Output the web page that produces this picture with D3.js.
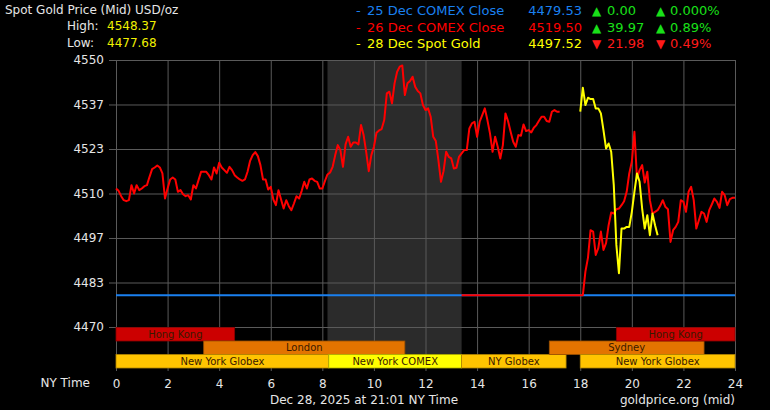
<!DOCTYPE html>
<html><head><meta charset="utf-8">
<script src="https://cdn.jsdelivr.net/npm/d3@7"></script>
<style>html,body{margin:0;padding:0;background:#000;overflow:hidden}svg{display:block}</style>
</head><body>
<script>
// ---------------- DATA ----------------
const xTickHours = [0, 2, 4, 6, 8, 10, 12, 14, 16, 18, 20, 22, 24];
const yTickValues = [4550, 4536.67, 4523.33, 4510, 4496.67, 4483.33, 4470];
const yTickLabels = ["4550", "4537", "4523", "4510", "4497", "4483", "4470"];

const stepHours = 0.1;
// 26 Dec COMEX session, from 0:00 to 17:20 NY time, every 6 minutes
const redDayValues = [
  4511.5, 4510.8, 4509.2, 4508.0, 4507.7, 4508.0, 4512.5, 4510.0, 4512.5, 4511.0,
  4511.5, 4512.2, 4512.5, 4515.0, 4517.3, 4517.8, 4518.4, 4517.8, 4516.0, 4508.5,
  4511.5, 4514.2, 4514.8, 4514.2, 4510.5, 4511.0, 4509.8, 4509.2, 4509.5, 4508.2,
  4512.5, 4511.5, 4514.0, 4516.5, 4516.5, 4516.5, 4515.5, 4514.2, 4517.8, 4516.0,
  4519.2, 4517.8, 4517.0, 4516.2, 4518.0, 4517.0, 4515.5, 4514.8, 4514.2, 4513.8,
  4514.2, 4516.5, 4519.8, 4521.5, 4522.4, 4521.2, 4518.5, 4514.2, 4514.2, 4511.2,
  4512.0, 4508.2, 4506.5, 4511.0, 4508.2, 4505.5, 4508.0, 4506.2, 4505.0, 4507.0,
  4509.2, 4508.5, 4510.8, 4513.5, 4511.5, 4514.2, 4514.5, 4513.8, 4513.5,
  4511.5, 4511.5, 4513.7, 4515.7, 4516.3, 4518.0, 4521.5, 4524.5, 4523.0, 4518.0, 4524.7,
  4527.0, 4524.0, 4525.3, 4525.3, 4524.7, 4530.5, 4527.5, 4522.5, 4516.7, 4521.5,
  4524.0, 4528.2, 4528.9, 4529.3, 4532.0, 4540.0, 4540.5, 4537.0, 4543.0, 4546.5,
  4548.0, 4548.37, 4539.5, 4543.0, 4543.7, 4545.0, 4542.0, 4540.7, 4540.0, 4536.5,
  4535.0, 4535.5, 4533.0, 4527.0, 4525.7, 4520.0, 4513.5, 4516.7, 4522.5, 4521.0,
  4520.5, 4517.5, 4517.7, 4521.0, 4522.0, 4523.0, 4523.0, 4529.5, 4531.0, 4531.5,
  4527.0, 4531.5, 4533.5, 4535.5, 4532.0, 4528.0, 4522.5, 4527.0, 4524.0, 4520.5,
  4524.5, 4534.0, 4531.7, 4528.5,
  4525.5, 4524.0, 4527.5, 4527.3, 4530.7, 4528.7, 4529.0, 4528.3, 4529.7, 4530.5,
  4531.8, 4533.0, 4533.0, 4531.7, 4531.5, 4534.5, 4535.0, 4534.5, 4534.5
];
const redDayStart = 0;

// evening session (18:00 - 24:00)
const redEveningStart = 18.0;
const redEveningValues = [
  4479.53, 4479.53, 4486.6, 4490.8, 4499.0, 4498.6, 4491.6, 4493.6, 4498.6, 4493.1,
  4495.1, 4500.5, 4504.3, 4504.0, 4505.3, 4505.5, 4506.5, 4507.7, 4510.5, 4516.0,
  4519.5, 4528.5, 4514.5, 4517.0, 4518.5, 4513.3, 4516.5, 4508.0, 4504.0, 4504.5,
  4505.0, 4506.3, 4508.0, 4506.0, 4505.3, 4495.5, 4499.0, 4500.0, 4501.5, 4508.0,
  4507.5, 4504.5, 4510.5, 4512.0, 4508.0, 4499.5, 4502.0, 4504.5, 4504.0, 4501.5,
  4505.0, 4506.7, 4508.5, 4507.5, 4505.7, 4510.5, 4509.5, 4506.5, 4508.3, 4508.7, 4508.7
];
const redFlatStart = 13.4;

// 28 Dec spot gold (18:00 - 21:00)
const yellowStart = 18.0;
const yellowValues = [
  4534.5, 4541.7, 4536.5, 4538.7, 4538.3, 4538.3, 4535.5, 4535.5, 4534.0, 4529.0,
  4523.5, 4525.0, 4522.5, 4512.5, 4494.6, 4486.1, 4499.5, 4499.5, 4500.0, 4500.0,
  4504.5, 4510.5, 4516.0, 4513.5, 4505.5, 4499.5, 4503.5, 4497.5, 4504.0, 4500.5, 4497.52
];

const prevClose = 4479.53;
const comexShade = [8.2, 13.4];

// market sessions: name, start hour, end hour, market
const sessionNames   = ["Hong Kong", "London", "New York Globex", "New York COMEX", "NY Globex", "Sydney", "Hong Kong", "New York Globex"];
const sessionStarts  = [0, 3.4, 0, 8.25, 13.4, 16.8, 19.4, 18];
const sessionEnds    = [4.6, 11.2, 8.25, 13.4, 17.45, 22.8, 24, 24];
const sessionMarkets = ["asia", "europe", "globex", "comex", "globex", "europe", "asia", "globex"];

const headerTitle = "Spot Gold Price (Mid) USD/oz";
const highLabel = "High:", highValue = "4548.37";
const lowLabel = "Low:", lowValue = "4477.68";

const legendLabels = ["25 Dec COMEX Close", "26 Dec COMEX Close", "28 Dec Spot Gold"];
const legendPrices = ["4479.53", "4519.50", "4497.52"];
const legendChanges = ["0.00", "39.97", "21.98"];
const legendPcts = ["0.000%", "0.89%", "0.49%"];
const legendUp = [true, true, false];

const xAxisTitle = "NY Time";
const footerDate = "Dec 28, 2025 at 21:01 NY Time";
const footerSource = "goldprice.org (mid)";

// ---------------- STYLE ----------------
const W = 770, H = 410;
const font = "'DejaVu Sans', Verdana, sans-serif";
const marketColor = {asia: "#cc0000", europe: "#e37400", globex: "#ffc400", comex: "#ffff00"};
const marketStroke = {asia: "#8a0000", europe: "#9a5000", globex: "#b08400", comex: "#b0b000"};
const marketRow = {asia: 0, europe: 1, globex: 2, comex: 2};
const seriesColors = ["#1a80f0", "#ff0000", "#ffff00"];
const upColor = "#19e019", downColor = "#ff1a1a";
const gridColor = "#5a5a5a";
const textColor = "#e6e6e6";

const plot = {left: 116, right: 735, top: 60, bottom: 327};
const rowTop = [327.5, 341, 354.5], rowH = [13.5, 13.5, 13.5];

const svg = d3.select("body").append("svg").attr("width", W).attr("height", H)
  .style("background", "#000").attr("font-family", font);

const x = d3.scaleLinear().domain([0, 24]).range([plot.left, plot.right]);
const y = d3.scaleLinear().domain([4470, 4550]).range([plot.bottom, plot.top]);

// shaded COMEX hours
svg.append("rect").attr("x", x(comexShade[0])).attr("y", plot.top)
  .attr("width", x(comexShade[1]) - x(comexShade[0])).attr("height", rowTop[2] - plot.top)
  .attr("fill", "#2b2b2b");

// vertical grid via axis
const xAxis = d3.axisBottom(x).tickValues(xTickHours).tickFormat(d => String(d))
  .tickSize(rowTop[2] + rowH[2] + 3 - plot.top).tickPadding(8);
const gx = svg.append("g").attr("transform", `translate(0,${plot.top})`).call(xAxis);
gx.select(".domain").remove();
gx.selectAll(".tick line").attr("stroke", gridColor).attr("stroke-width", 1);
gx.selectAll(".tick text").attr("fill", textColor).attr("font-size", 12).attr("font-family", font);

// horizontal grid via axis
const yAxis = d3.axisLeft(y).tickValues(yTickValues).tickFormat((d, i) => yTickLabels[i])
  .tickSize(-(plot.right - plot.left)).tickPadding(12);
const gy = svg.append("g").attr("transform", `translate(${plot.left},0)`).call(yAxis);
gy.select(".domain").remove();
gy.selectAll(".tick line").attr("stroke", gridColor).attr("x1", -7);
gy.selectAll(".tick text").attr("fill", textColor).attr("font-size", 12).attr("font-family", font);

// sessions
const sessions = sessionNames.map((n, i) => ({name: n, start: sessionStarts[i], end: sessionEnds[i], market: sessionMarkets[i]}));
const sg = svg.append("g");
sg.selectAll("rect").data(sessions).join("rect")
  .attr("x", d => x(d.start)).attr("y", d => rowTop[marketRow[d.market]])
  .attr("width", d => x(d.end) - x(d.start)).attr("height", d => rowH[marketRow[d.market]])
  .attr("fill", d => marketColor[d.market]).attr("stroke", d => marketStroke[d.market]).attr("stroke-width", 0.8);
sg.selectAll("text").data(sessions).join("text")
  .attr("x", d => (x(d.start) + x(d.end)) / 2).attr("y", d => rowTop[marketRow[d.market]] + rowH[marketRow[d.market]] / 2 + 3.5)
  .attr("text-anchor", "middle").attr("font-size", 10).attr("fill", "#3a1a00").text(d => d.name);

// series
const line = d3.line().x(d => x(d[0])).y(d => y(d[1]));
const toPts = (start, vals) => vals.map((v, i) => [start + i * stepHours, v]);

svg.append("path").datum([[0, prevClose], [24, prevClose]]).attr("d", line)
  .attr("fill", "none").attr("stroke", seriesColors[0]).attr("stroke-width", 2);
svg.append("path").datum(toPts(redDayStart, redDayValues)).attr("d", line)
  .attr("fill", "none").attr("stroke", seriesColors[1]).attr("stroke-width", 2).attr("stroke-linejoin", "round");
svg.append("path").datum([[redFlatStart, prevClose]].concat(toPts(redEveningStart, redEveningValues))).attr("d", line)
  .attr("fill", "none").attr("stroke", seriesColors[1]).attr("stroke-width", 2).attr("stroke-linejoin", "round");
svg.append("path").datum(toPts(yellowStart, yellowValues)).attr("d", line)
  .attr("fill", "none").attr("stroke", seriesColors[2]).attr("stroke-width", 2).attr("stroke-linejoin", "round");

// header
svg.append("text").attr("x", 5).attr("y", 14).attr("font-size", 12).attr("fill", textColor).text(headerTitle);
svg.append("text").attr("x", 67).attr("y", 30).attr("font-size", 12).attr("fill", textColor).text(highLabel);
svg.append("text").attr("x", 107).attr("y", 30).attr("font-size", 12).attr("fill", "#f0f000").text(highValue);
svg.append("text").attr("x", 67).attr("y", 47).attr("font-size", 12).attr("fill", textColor).text(lowLabel);
svg.append("text").attr("x", 107).attr("y", 47).attr("font-size", 12).attr("fill", "#f0f000").text(lowValue);

// legend
const lg = svg.append("g").attr("font-size", 13);
legendLabels.forEach((lab, i) => {
  const by = 15 + i * 16.5;
  const c = seriesColors[i];
  const cc = legendUp[i] ? upColor : downColor;
  const tri = legendUp[i] ? "▲" : "▼";
  lg.append("text").attr("x", 356).attr("y", by).attr("fill", c).text("-");
  lg.append("text").attr("x", 367).attr("y", by).attr("fill", c).text(lab);
  lg.append("text").attr("x", 582).attr("y", by).attr("text-anchor", "end").attr("fill", c).text(legendPrices[i]);
  lg.append("text").attr("x", 592).attr("y", by).attr("fill", cc).attr("font-size", 12).text(tri);
  lg.append("text").attr("x", 607).attr("y", by).attr("fill", cc).text(legendChanges[i]);
  lg.append("text").attr("x", 656).attr("y", by).attr("fill", cc).attr("font-size", 12).text(tri);
  lg.append("text").attr("x", 670).attr("y", by).attr("fill", cc).text(legendPcts[i]);
});

// footer
svg.append("text").attr("x", 90).attr("y", 387).attr("text-anchor", "end").attr("font-size", 12).attr("fill", textColor).text(xAxisTitle);
svg.append("text").attr("x", 364).attr("y", 404).attr("text-anchor", "middle").attr("font-size", 12).attr("fill", textColor).text(footerDate);
svg.append("text").attr("x", 735).attr("y", 404).attr("text-anchor", "end").attr("font-size", 12).attr("fill", textColor).text(footerSource);
</script>
</body></html>
